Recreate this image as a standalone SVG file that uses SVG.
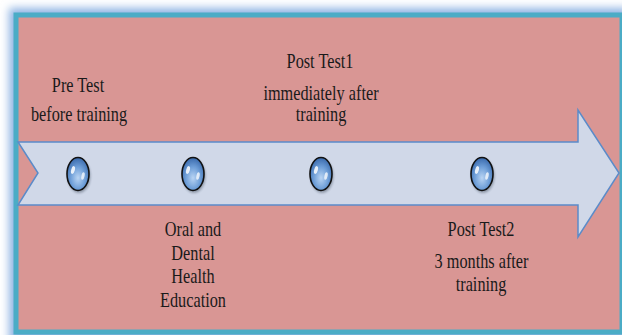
<svg xmlns="http://www.w3.org/2000/svg" width="622" height="335" viewBox="0 0 622 335">
  <defs>
    <filter id="glow" x="-10%" y="-10%" width="120%" height="120%">
      <feGaussianBlur stdDeviation="4"/>
    </filter>
    <radialGradient id="bead" cx="0.5" cy="0.62" r="0.6">
      <stop offset="0" stop-color="#b9d4f3"/>
      <stop offset="0.55" stop-color="#6f9fd8"/>
      <stop offset="1" stop-color="#3c6cae"/>
    </radialGradient>
    <filter id="drop" x="-50%" y="-50%" width="200%" height="200%">
      <feGaussianBlur stdDeviation="1.2"/>
    </filter>
    <g id="marker">
      <ellipse cx="1" cy="2" rx="11.5" ry="17" fill="#1f2a3a" opacity="0.35" filter="url(#drop)"/>
      <ellipse cx="0" cy="0" rx="11" ry="16.5" fill="url(#bead)" stroke="#111" stroke-width="1.6"/>
      <ellipse cx="-5" cy="-4" rx="1.8" ry="4" fill="#fff" opacity="0.85" transform="rotate(15 -5 -4)"/>
      <ellipse cx="5" cy="2" rx="1.6" ry="3.8" fill="#fff" opacity="0.75" transform="rotate(12 5 2)"/>
    </g>
  </defs>
  <style>
    .lbl { font-family: "Liberation Serif", "Times New Roman", serif; font-size: 21px; fill: #1a1a1a; text-anchor: middle; }
  </style>

  <rect width="622" height="335" fill="#ffffff"/>

  <!-- soft outer glow and framed panel -->
  <g id="panel">
    <rect x="9" y="8" width="620" height="335" fill="#8fb4e3" filter="url(#glow)"/>
    <rect x="16" y="15" width="606" height="317" fill="#d99694" stroke="#4bacc6" stroke-width="5"/>
  </g>

  <!-- timeline band with arrow head -->
  <g id="connectors">
    <polygon points="18,142 578,142 578,110 619,173 578,237 578,205 18,205 38,173" fill="#d0d8e8" stroke="#5b8bc9" stroke-width="1.5" stroke-linejoin="miter"/>
  </g>

  <g id="pre-test">
    <use href="#marker" x="78" y="174"/>
    <text class="lbl" transform="translate(78 92) scale(0.775 1)">Pre Test</text>
    <text class="lbl" transform="translate(79 121) scale(0.775 1)">before training</text>
  </g>

  <g id="education">
    <use href="#marker" x="193" y="174"/>
    <text class="lbl" transform="translate(193 236) scale(0.775 1)">Oral and</text>
    <text class="lbl" transform="translate(193 260) scale(0.775 1)">Dental</text>
    <text class="lbl" transform="translate(193 283) scale(0.775 1)">Health</text>
    <text class="lbl" transform="translate(193 307) scale(0.775 1)">Education</text>
  </g>

  <g id="post-test-1">
    <use href="#marker" x="321" y="174"/>
    <text class="lbl" transform="translate(320 68) scale(0.775 1)">Post Test1</text>
    <text class="lbl" transform="translate(321 99.5) scale(0.775 1)">immediately after</text>
    <text class="lbl" transform="translate(321 121) scale(0.775 1)">training</text>
  </g>

  <g id="post-test-2">
    <use href="#marker" x="482" y="174"/>
    <text class="lbl" transform="translate(481 236) scale(0.775 1)">Post Test2</text>
    <text class="lbl" transform="translate(481.5 268) scale(0.775 1)">3 months after</text>
    <text class="lbl" transform="translate(481 291) scale(0.775 1)">training</text>
  </g>
</svg>
